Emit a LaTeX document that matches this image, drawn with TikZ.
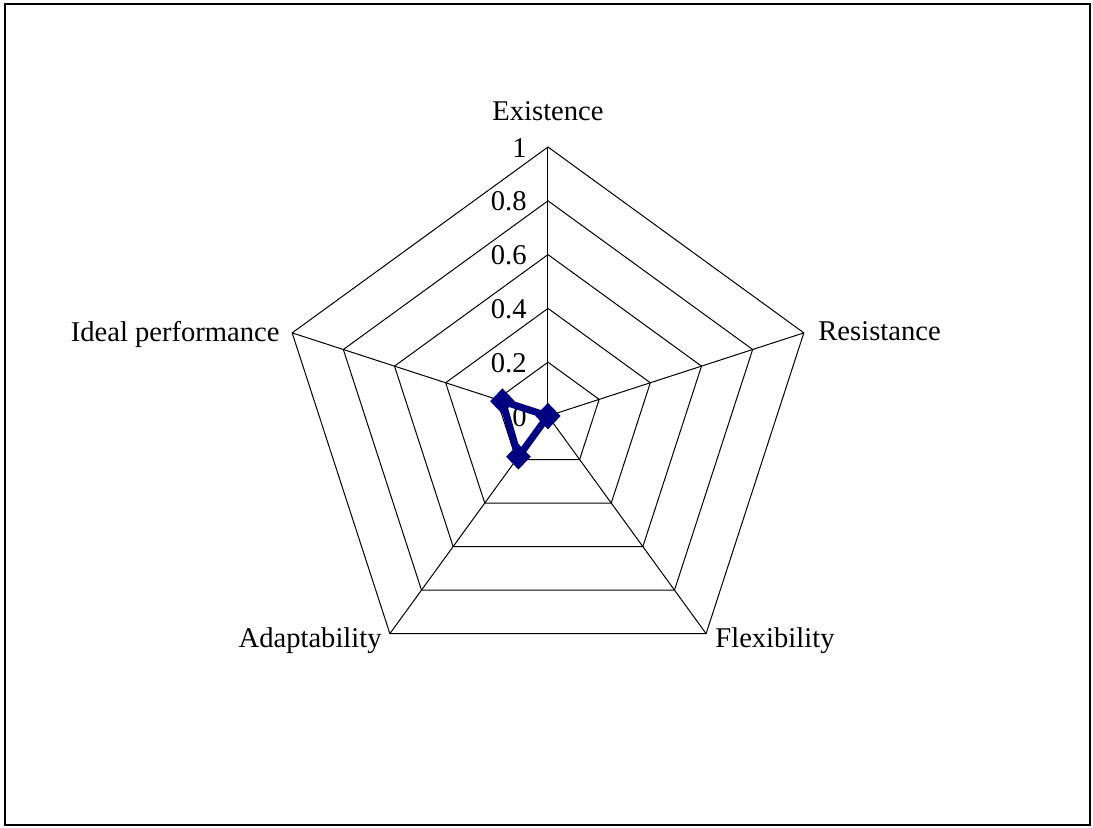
\documentclass[tikz,border=0pt]{standalone}
\usepackage{fontspec}
\setmainfont{Liberation Serif}
\usepackage{xcolor}
\usepackage{tikz}
\usetikzlibrary{shapes.geometric}
\definecolor{navy}{RGB}{0,0,128}

\begin{document}
\begin{tikzpicture}[x=0.5pt,y=0.5pt]
	\tikzstyle{grid}=[draw=black,line width=0.5pt]
	\tikzstyle{axislabel}=[inner sep=0pt,font=\fontsize{14.3}{17}\selectfont]
	\tikzstyle{ticklabel}=[inner sep=0pt,anchor=base east,font=\fontsize{14.3}{17}\selectfont]
	\tikzstyle{datamark}=[diamond,fill=navy,inner sep=0pt,minimum width=12.5pt,minimum height=13pt]
	\useasboundingbox (-548,-411) rectangle (545,416);
	\draw[line width=1pt] (-543,-409) rectangle (542,412);
	% rings 0.2 ... 1
	\foreach \k in {1,...,5}
		\draw[grid] (90:{\k*53.8}) -- (18:{\k*53.8}) -- (-54:{\k*53.8}) -- (-126:{\k*53.8}) -- (162:{\k*53.8}) -- cycle;
	% axes
	\coordinate (c) at (0,0);
	\coordinate (exist) at (90:269);
	\coordinate (resist) at (18:269);
	\coordinate (flex) at (-54:269);
	\coordinate (adapt) at (-126:269);
	\coordinate (ideal) at (162:269);
	\draw[grid] (c) -- (exist);
	\draw[grid] (c) -- (resist);
	\draw[grid] (c) -- (flex);
	\draw[grid] (c) -- (adapt);
	\draw[grid] (c) -- (ideal);
	% scale
	\foreach \v/\t in {0/0,1/0.2,2/0.4,3/0.6,4/0.8,5/1}
		\node[ticklabel](tick\v) at (-21,{\v*53.8-10}) {\t};
	% axis names
	\node[axislabel,anchor=base](lexist) at (0,296) {Existence};
	\node[axislabel,anchor=base west](lresist) at (270,76) {Resistance};
	\node[axislabel,anchor=base west](lflex) at (167,-231) {Flexibility};
	\node[axislabel,anchor=base east](ladapt) at (-166,-231) {Adaptability};
	\node[axislabel,anchor=base east](lideal) at (-268,75) {Ideal performance};
	% data
	\coordinate (dexist) at (90:0);
	\coordinate (dresist) at (18:0);
	\coordinate (dflex) at (-54:0);
	\coordinate (dadapt) at (-126:50.3);
	\coordinate (dideal) at (162:47.9);
	\draw[navy,line width=3.5pt,line join=round] (dexist) -- (dresist) -- (dflex) -- (dadapt) -- (dideal) -- cycle;
	\node[datamark](mexist) at (dexist) {};
	\node[datamark](mresist) at (dresist) {};
	\node[datamark](mflex) at (dflex) {};
	\node[datamark](madapt) at (dadapt) {};
	\node[datamark](mideal) at (dideal) {};
\end{tikzpicture}
\end{document}
